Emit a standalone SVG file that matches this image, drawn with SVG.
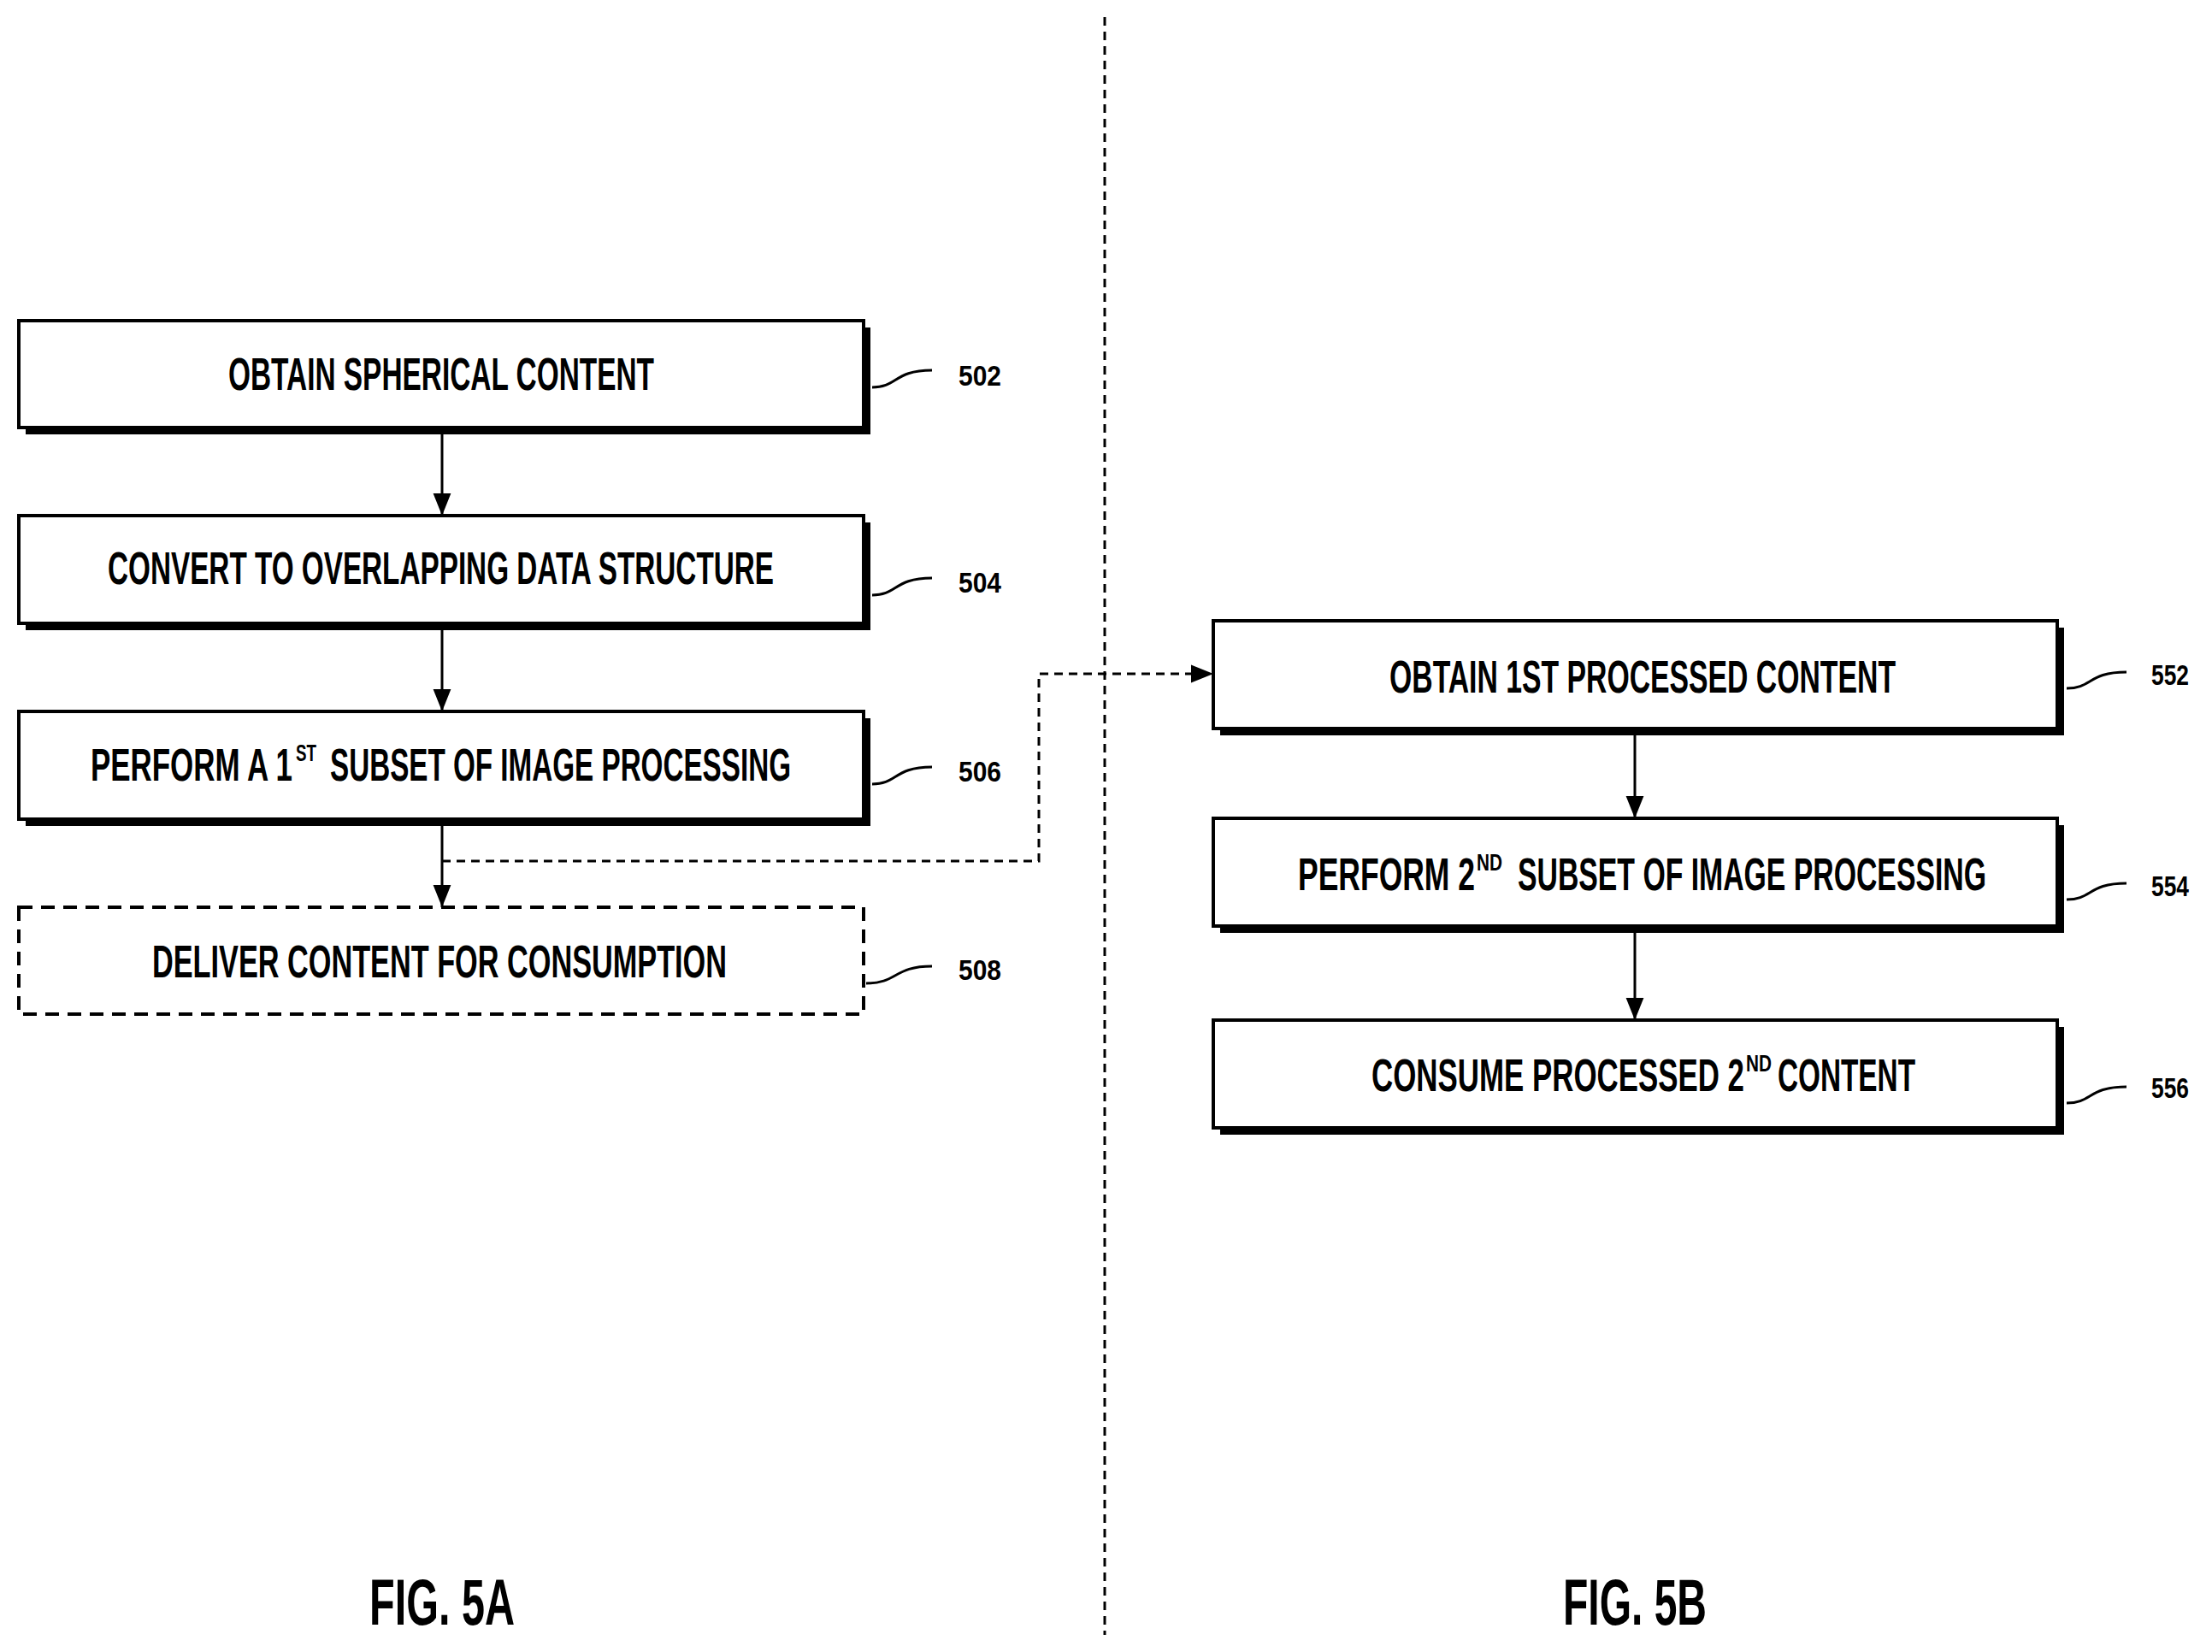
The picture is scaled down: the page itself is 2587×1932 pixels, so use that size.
<svg xmlns="http://www.w3.org/2000/svg" width="2587" height="1932" viewBox="0 0 2587 1932">
<defs>
<style>
.box{fill:#fff;stroke:#000;stroke-width:4}
.sh{fill:#000}
.t{font-family:"Liberation Sans",Arial,sans-serif;font-weight:bold;font-size:54px;fill:#000}
.s{font-family:"Liberation Sans",Arial,sans-serif;font-weight:bold;font-size:28px;fill:#000}
.n{font-family:"Liberation Sans",Arial,sans-serif;font-weight:bold;font-size:34px;fill:#000}
.f{font-family:"Liberation Sans",Arial,sans-serif;font-weight:bold;font-size:76px;fill:#000}
.ln{stroke:#000;stroke-width:3;fill:none}
.dl{stroke:#000;stroke-width:3;fill:none;stroke-dasharray:10,7}
.ld{stroke:#000;stroke-width:3;fill:none}
</style>
<marker id="ahb" viewBox="0 0 10 10" refX="10" refY="5" markerWidth="26" markerHeight="26" markerUnits="userSpaceOnUse" orient="auto"><path d="M0,1L10,5L0,9z" fill="#000"/></marker>
</defs>
<rect width="2587" height="1932" fill="#fff"/>
<line x1="1292" y1="20" x2="1292" y2="1912" class="dl" stroke-width="2.5"/>
<g id="connectors">
<line x1="517" y1="500" x2="517" y2="603" class="ln" marker-end="url(#ahb)"/>
<line x1="517" y1="729" x2="517" y2="832" class="ln" marker-end="url(#ahb)"/>
<line x1="517" y1="958" x2="517" y2="1061" class="ln" marker-end="url(#ahb)"/>
<path d="M517,1007 H1215 V788 H1419" class="dl" marker-end="url(#ahb)"/>
<line x1="1912" y1="852" x2="1912" y2="957" class="ln" marker-end="url(#ahb)"/>
<line x1="1912" y1="1083" x2="1912" y2="1193" class="ln" marker-end="url(#ahb)"/>
</g>
<g id="n502">
<rect x="30" y="383" width="988" height="125" class="sh"/>
<rect x="22" y="375" width="988" height="125" class="box"/>
<text x="267" y="456" class="t" textLength="498" lengthAdjust="spacingAndGlyphs">OBTAIN SPHERICAL CONTENT</text>
<path d="M1020,453 C1050,453 1045,433 1090,433" class="ld"/>
<text x="1121" y="451" class="n" textLength="50" lengthAdjust="spacingAndGlyphs">502</text>
</g>
<g id="n504">
<rect x="30" y="611" width="988" height="126" class="sh"/>
<rect x="22" y="603" width="988" height="126" class="box"/>
<text x="126" y="683" class="t" textLength="779" lengthAdjust="spacingAndGlyphs">CONVERT TO OVERLAPPING DATA STRUCTURE</text>
<path d="M1020,696 C1050,696 1045,676 1090,676" class="ld"/>
<text x="1121" y="693" class="n" textLength="50" lengthAdjust="spacingAndGlyphs">504</text>
</g>
<g id="n506">
<rect x="30" y="840" width="988" height="126" class="sh"/>
<rect x="22" y="832" width="988" height="126" class="box"/>
<text x="106" y="913" class="t" textLength="236" lengthAdjust="spacingAndGlyphs">PERFORM A 1</text>
<text x="346" y="890" class="s" textLength="24" lengthAdjust="spacingAndGlyphs">ST</text>
<text x="386" y="913" class="t" textLength="539" lengthAdjust="spacingAndGlyphs">SUBSET OF IMAGE PROCESSING</text>
<path d="M1020,917 C1050,917 1045,897 1090,897" class="ld"/>
<text x="1121" y="914" class="n" textLength="50" lengthAdjust="spacingAndGlyphs">506</text>
</g>
<g id="n508">
<rect x="22" y="1061" width="988" height="125" fill="#fff" stroke="#000" stroke-width="4" stroke-dasharray="16,10"/>
<text x="178" y="1143" class="t" textLength="672" lengthAdjust="spacingAndGlyphs">DELIVER  CONTENT FOR CONSUMPTION</text>
<path d="M1013,1150 C1050,1150 1045,1130 1090,1130" class="ld"/>
<text x="1121" y="1146" class="n" textLength="50" lengthAdjust="spacingAndGlyphs">508</text>
</g>
<g id="n552">
<rect x="1427" y="734" width="987" height="126" class="sh"/>
<rect x="1419" y="726" width="987" height="126" class="box"/>
<text x="1625" y="810" class="t" textLength="592" lengthAdjust="spacingAndGlyphs">OBTAIN 1ST PROCESSED CONTENT</text>
<path d="M2417,805 C2447,805 2442,786 2487,786" class="ld"/>
<text x="2516" y="801" class="n" textLength="44" lengthAdjust="spacingAndGlyphs">552</text>
</g>
<g id="n554">
<rect x="1427" y="965" width="987" height="126" class="sh"/>
<rect x="1419" y="957" width="987" height="126" class="box"/>
<text x="1518" y="1041" class="t" textLength="207" lengthAdjust="spacingAndGlyphs">PERFORM 2</text>
<text x="1727" y="1018" class="s" textLength="30" lengthAdjust="spacingAndGlyphs">ND</text>
<text x="1775" y="1041" class="t" textLength="548" lengthAdjust="spacingAndGlyphs">SUBSET OF IMAGE PROCESSING</text>
<path d="M2417,1052 C2447,1052 2442,1033 2487,1033" class="ld"/>
<text x="2516" y="1048" class="n" textLength="44" lengthAdjust="spacingAndGlyphs">554</text>
</g>
<g id="n556">
<rect x="1427" y="1201" width="987" height="126" class="sh"/>
<rect x="1419" y="1193" width="987" height="126" class="box"/>
<text x="1604" y="1276" class="t" textLength="436" lengthAdjust="spacingAndGlyphs">CONSUME PROCESSED 2</text>
<text x="2042" y="1253" class="s" textLength="30" lengthAdjust="spacingAndGlyphs">ND</text>
<text x="2079" y="1276" class="t" textLength="161" lengthAdjust="spacingAndGlyphs">CONTENT</text>
<path d="M2417,1290 C2447,1290 2442,1271 2487,1271" class="ld"/>
<text x="2516" y="1284" class="n" textLength="44" lengthAdjust="spacingAndGlyphs">556</text>
</g>
<text x="432" y="1900" class="f" textLength="170" lengthAdjust="spacingAndGlyphs">FIG. 5A</text>
<text x="1828" y="1900" class="f" textLength="168" lengthAdjust="spacingAndGlyphs">FIG. 5B</text>
</svg>
